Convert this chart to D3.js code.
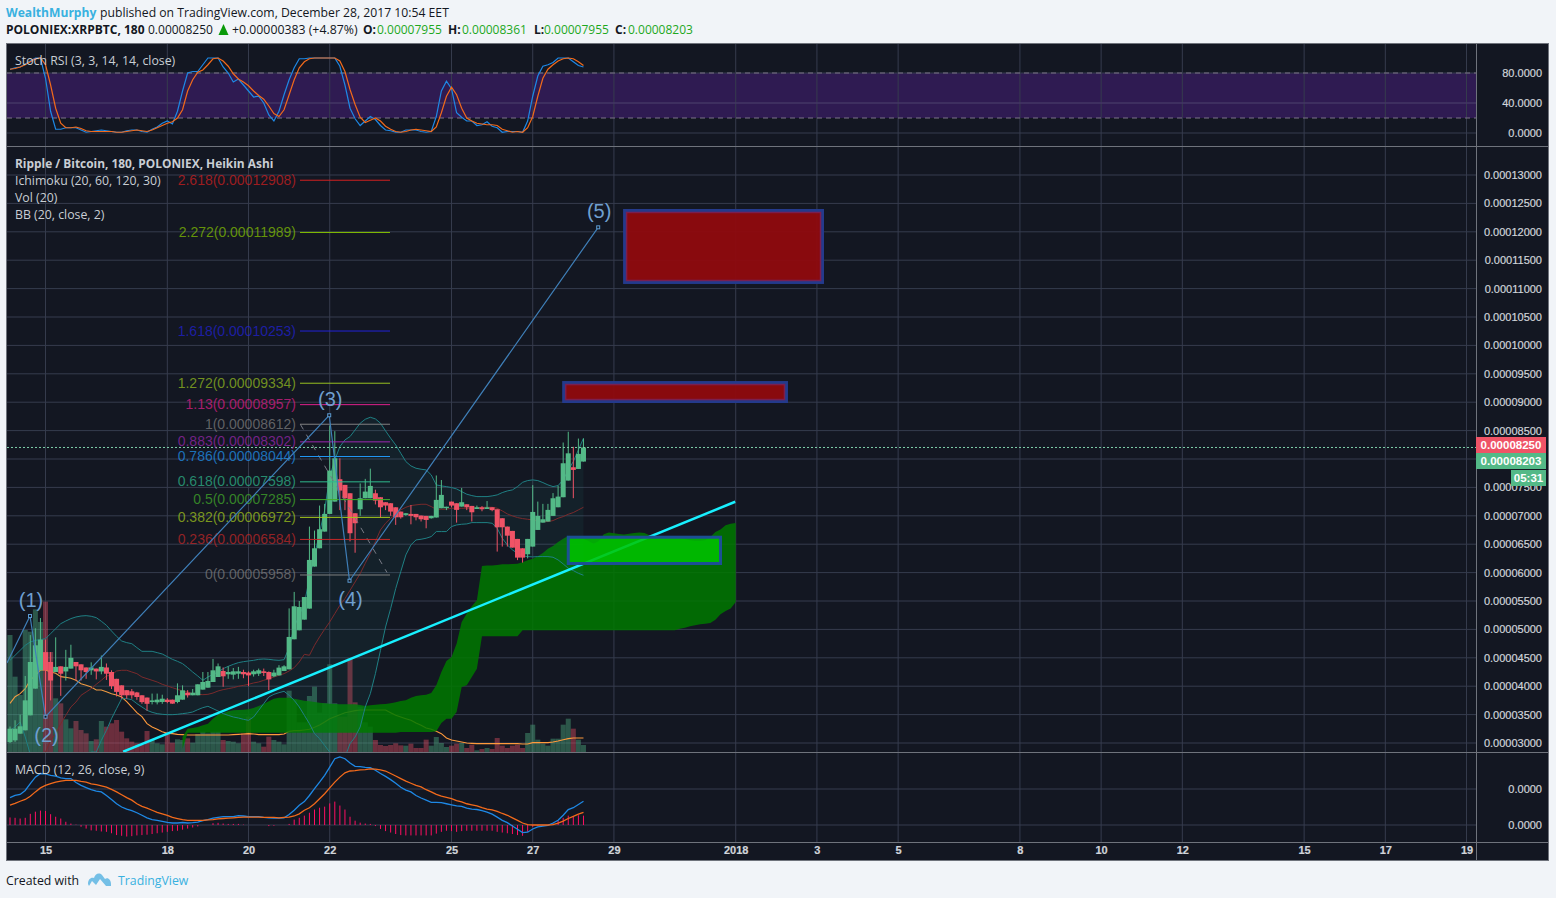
<!DOCTYPE html>
<html><head><meta charset="utf-8">
<script src="https://cdn.jsdelivr.net/npm/d3@7/dist/d3.min.js"></script>
<style>
html,body{margin:0;padding:0;background:#f1f4f8;overflow:hidden}
svg{display:block}
.ui{font-family:"Open Sans",sans-serif;font-size:12.3px}
.ui.b{font-size:11.9px}
.ax text{font-family:"Liberation Sans",Arial,sans-serif;font-size:11px;fill:#d0d4da;stroke:#d0d4da;stroke-width:.2px}
.ax path,.ax line{display:none}
</style></head><body>
<script>
// ---------- Data (prices in 1e-8 BTC) ----------
const haOpen=[3018,3047,3164,3223,3487,3957,4280,4600,4426,4250,4350,4260,4310,4426,4385,4330,4280,4310,4260,4330,4250,4130,4015,3930,3910,3890,3840,3800,3722,3716,3722,3763,3763,3722,3763,3886,3840,3840,3940,3974,4074,4162,4268,4210,4203,4220,4250,4240,4210,4220,4262,4250,4174,4190,4268,4297,4826,4984,5172,5366,6106,6428,6722,7033,7250,7644,7544,7397,7045,7115,7309,7309,7397,7327,7239,7221,7150,7074,7015,7033,7033,7004,6998,6957,6970,7133,7145,7250,7221,7162,7203,7174,7120,7150,7120,7150,7115,6957,6810,6734,6593,6428,6323,6458,6751,6880,6898,6998,7150,7327,7620,7855,7825,7955];
const haClose=[3252,3252,3294,3751,4426,4720,4820,4280,4100,4340,4220,4340,4500,4350,4280,4250,4330,4260,4340,4220,4000,3900,3840,3840,3840,3810,3720,3690,3750,3763,3780,3722,3693,3840,3927,3840,3886,4033,4074,4092,4280,4350,4174,4250,4262,4262,4210,4190,4262,4280,4233,4120,4240,4327,4350,4867,5407,5395,5570,6223,6428,6763,7033,7796,8013,7444,7309,6693,6869,7309,7426,7526,7268,7150,7180,7074,6974,6974,7045,6998,6974,6939,6927,6998,7280,7368,7160,7180,7104,7239,7150,7062,7150,7115,7150,7100,6798,6798,6650,6440,6264,6264,6593,7068,6998,6939,7104,7309,7338,7925,8100,7808,8090,8203];
const haHigh=[3290,3400,3500,4180,4900,5020,5200,4820,4600,4860,4350,4640,4730,4426,4385,4330,4420,4310,4540,4400,4280,4130,4015,3930,3950,3900,3840,3800,3870,3870,3850,3790,3763,4050,4015,3930,3950,4033,4250,4250,4480,4400,4330,4350,4320,4340,4290,4260,4290,4310,4310,4260,4290,4370,4370,5370,5660,5500,5570,6810,6740,7180,7210,8590,8490,8013,7544,7397,7045,7570,7650,7830,7460,7327,7239,7221,7150,7074,7050,7190,7033,7004,6998,7000,7710,7630,7160,7250,7221,7490,7203,7174,7180,7170,7260,7150,7115,6957,6810,6734,6593,6428,6593,7540,7250,7210,7210,7400,7530,8290,8480,8215,8360,8361];
const haLow=[3000,3020,3164,3223,3487,3957,4280,3420,3750,4250,3830,4100,4310,4100,4100,4130,4200,4120,4210,4110,3950,3820,3780,3780,3780,3760,3690,3570,3680,3680,3690,3700,3690,3700,3763,3800,3840,3840,3940,3974,4074,4162,3990,4130,4120,4130,4140,4000,4170,4180,4180,3930,4160,4190,4268,4297,4826,4984,5172,5366,6106,6428,6722,7033,7250,7100,7100,6550,6350,7000,7309,7309,7200,6970,7100,7000,6840,6950,7000,6850,6920,6900,6780,6950,6970,7133,7100,7150,6880,7162,7100,6900,7120,7080,7120,7080,6370,6458,6458,6440,6220,6176,6250,6458,6751,6880,6898,6998,7150,7327,7620,7310,7825,7955];
const volume=[351,226,171,366,361,428,390,451,300,161,146,98,71,93,66,56,33,38,93,76,86,96,61,41,31,26,21,63,36,26,23,58,28,38,36,41,28,54,61,56,61,61,36,33,31,26,56,106,31,26,16,46,36,31,23,184,156,89,89,168,196,118,146,263,146,106,106,281,149,136,89,76,36,21,18,21,26,20,19,25,12,12,37,19,45,27,15,19,25,27,12,22,5,9,12,9,42,19,12,19,22,12,57,82,37,25,19,40,40,82,100,70,37,21];
const volumeMA=[146,166,175,190,216,230,246,246,240,236,226,224,221,215,205,200,195,186,186,181,175,171,165,151,135,118,106,85,75,68,61,56,55,53,52,51,51,51,51,51,51,51,51,51,52,53,54,55,54,52,52,52,52,52,54,62,64,64,66,68,74,81,90,100,106,112,118,121,124,126,126,126,126,126,126,118,110,105,100,95,87,80,72,68,62,55,42,36,33,30,27,26,25,25,25,25,25,25,25,25,25,24,24,28,28,28,28,30,33,37,40,42,42,42];
const bbUpper=[4456,4544,4632,4720,4779,4808,4820,4837,4925,5013,5101,5148,5190,5219,5236,5242,5231,5207,5143,5072,4972,4878,4796,4767,4749,4679,4614,4614,4614,4591,4567,4520,4473,4438,4397,4327,4250,4180,4104,4162,4209,4250,4309,4350,4385,4415,4432,4444,4456,4473,4479,4473,4462,4456,4467,4679,5043,5248,5454,5900,6300,6700,7100,7690,7984,8219,8336,8395,8512,8630,8700,8735,8706,8630,8495,8366,8248,8101,7955,7878,7837,7820,7808,7720,7544,7526,7514,7497,7473,7426,7380,7356,7338,7338,7338,7350,7368,7409,7438,7456,7514,7590,7620,7632,7620,7585,7544,7514,7532,7632,7808,7955,8160,8366];
const bbBasis=[2100,2200,2300,2400,2500,2650,2800,2841,3047,3164,3340,3487,3634,3722,3840,3898,3957,4033,4104,4180,4192,4268,4280,4280,4250,4221,4162,4133,4104,4074,4033,4004,3974,3945,3916,3898,3869,3857,3851,3857,3880,3916,3939,3957,3974,3998,4015,4033,4057,4074,4104,4133,4162,4192,4221,4268,4327,4426,4561,4544,4720,4867,5002,5131,5278,5424,5542,5688,5835,5982,6164,6340,6546,6751,6869,6957,7015,7104,7150,7180,7192,7203,7203,7162,7115,7115,7115,7133,7133,7133,7133,7133,7140,7150,7150,7150,7133,7086,7033,6998,6969,6951,6939,6927,6910,6898,6898,6916,6957,6986,7027,7057,7104,7150];
const bbLower=[3223,3282,3370,3106,2800,2600,2400,2300,2200,2100,2000,2000,2100,2200,2400,2600,2841,2841,3047,3223,3428,3605,3780,3780,3763,3693,3634,3575,3540,3517,3505,3499,3499,3505,3517,3528,3546,3587,3622,3646,3605,3563,3517,3487,3458,3440,3417,3399,3458,3575,3693,3810,3857,3886,3910,3839,3751,3634,3487,3340,3164,3076,2957,2841,2700,2700,2750,2988,3106,3282,3634,3869,4221,4632,5043,5366,5718,6018,6311,6487,6575,6587,6605,6634,6722,6722,6722,6810,6839,6851,6857,6880,6880,6880,6880,6868,6780,6605,6487,6400,6340,6294,6282,6276,6282,6282,6282,6270,6223,6153,6076,6035,5988,5953];
const cloudStart=34;
const cloudTop=[3106,3252,3264,3282,3311,3340,3428,3499,3528,3558,3575,3581,3587,3593,3616,3651,3693,3734,3781,3798,3798,3798,3781,3763,3745,3734,3722,3710,3698,3693,3687,3681,3681,3681,3681,3669,3652,3663,3675,3681,3687,3698,3716,3740,3751,3798,3828,3840,3851,3880,4015,4250,4444,4514,4749,5131,5278,5407,5512,6117,6123,6123,6135,6146,6146,6152,6158,6182,6217,6246,6287,6346,6422,6469,6540,6598,6645,6645,6645,6598,6557,6510,6557,6675,6704,6692,6680,6669,6686,6698,6704,6698,6657,6628,6622,6622,6628,6628,6616,6592,6569,6557,6557,6569,6628,6716,6757,6833,6862,6874];
const cloudBottom=[2900,3182,3182,3182,3182,3182,3182,3182,3182,3182,3182,3182,3182,3182,3182,3182,3182,3182,3182,3182,3182,3182,3182,3182,3182,3182,3182,3182,3182,3182,3182,3182,3182,3182,3182,3182,3182,3182,3182,3182,3182,3182,3182,3194,3194,3194,3194,3194,3194,3194,3205,3352,3429,3429,3546,3986,4015,4162,4309,4878,4878,4878,4878,4878,4878,4878,4878,4984,4984,4984,4984,4984,4984,4984,4984,4984,4984,4984,4984,4984,4984,4984,4984,4984,4984,4984,4984,4984,4984,4984,4984,4984,4984,4984,4984,4984,4984,4984,5013,5031,5054,5072,5090,5101,5113,5172,5266,5325,5366,5483];
const stochK=[85,87,88,92,96,100,100,73,29,5,5,7,7,7,4,1,2,3,4,3,2,1,1,3,4,4,2,1,5,8,13,16,12,29,56,80,82,82,91,100,100,100,88,80,68,72,64,56,48,49,40,24,16,29,51,71,87,99,99,100,100,100,100,100,100,89,64,33,19,10,16,22,18,10,4,3,1,1,4,4,4,2,1,2,22,56,69,59,27,21,16,16,10,11,15,9,7,1,2,2,2,1,16,49,76,89,91,94,100,100,100,95,90,88];
const stochD=[85,86,88,91,95,99,100,91,64,33,13,7,7,8,6,3,2,2,2,2,2,1,1,2,3,4,3,2,4,7,10,13,15,20,31,56,71,81,84,91,99,100,96,89,79,72,68,63,56,50,45,36,26,22,31,51,71,87,95,99,100,100,100,100,100,96,82,58,38,21,14,17,20,16,9,5,2,1,2,4,5,4,3,2,8,27,49,61,51,33,20,16,13,12,11,11,10,5,3,1,2,1,7,22,49,73,85,91,96,99,100,99,95,90];
const macdLine=[7.6,8.2,8.5,9.6,11.5,13.3,14.3,14.2,13.8,13.6,13.1,12.9,12.9,11.8,11,10.4,9.8,9.4,9.2,8.2,7.1,5.9,5,4.4,4,3.4,2.7,2,1.5,1.3,1,.7,.55,.55,.7,.55,.65,.8,1.2,1.5,1.9,2.1,2.3,2.3,2.3,2.6,2.5,2.3,2.3,2.3,2.1,2,1.9,1.9,2,2.9,4.1,5.5,6.5,8.2,10.1,11.9,13.8,16.1,18.4,18.9,18.4,17.2,16.3,16.2,16,15.9,15.2,14.3,13.5,12.6,11.6,10.5,9.7,9.2,8.2,7.5,6.9,6.3,6.3,6.2,5.9,5.6,5.3,5.2,4.7,4.4,4.3,4,3.6,3,2.2,1.3,.65,-.3,-1.2,-2.1,-2,-1.1,-.55,-.3,-.1,.55,1.3,2.7,4.3,4.8,5.7,6.6];
const macdSignal=[5.5,6,6.6,7.1,8,9.2,10.3,11,11.5,11.9,12.2,12.4,12.4,12.4,12.1,11.9,11.4,11.2,10.9,10.5,9.9,9.2,8.4,7.6,6.9,5.9,5.2,4.7,4.1,3.5,3.1,2.7,2.1,1.8,1.5,1.3,1.3,1.3,1.3,1.4,1.5,1.7,1.8,1.9,2,2.1,2.2,2.2,2.2,2.2,2.1,2.1,2.1,2,2.1,2.2,2.5,3.1,4.1,4.8,5.9,7.3,8.7,10.3,11.9,13.3,14.5,15,15.1,15.3,15.4,15.6,15.5,15.3,15,14.3,13.6,12.9,12.2,11.6,11,10.6,9.8,9.2,8.5,8,7.7,7.3,6.8,6.4,5.9,5.6,5.3,4.8,4.4,4.2,3.8,3.2,2.7,2,1.3,.55,.1,0,0,0,0,.1,.55,1.1,1.8,2.4,3,3.5];
const macdHist=[2.1,2,1.8,2,3.1,3.7,4,3.9,3,2.3,1.8,.9,.4,.1,-.5,-1,-1.5,-1.6,-1.8,-1.9,-2.3,-2.8,-3,-3.2,-3.1,-2.9,-2.8,-2.7,-2.5,-2.3,-2.1,-1.9,-1.7,-1.6,-1.3,-1,-.7,-.4,0,0,.5,.6,.4,.3,.3,.3,.1,0,0,0,0,-.3,-.2,0,0,.3,1.5,2,2.6,3.4,4.3,4.8,5.1,6,6.5,5.4,4.3,2.3,1.2,.65,.4,.3,-.3,-1.1,-1.7,-2.1,-2.5,-2.8,-2.9,-2.9,-2.9,-2.9,-2.9,-2.9,-2.4,-1.9,-1.6,-1.7,-1.9,-1.7,-1.6,-1.6,-1.6,-1.6,-1.6,-1.6,-1.9,-2.1,-2.3,-2.5,-2.8,-3,-1.9,-.5,-.2,-.1,0,.4,1.2,2,2.6,2.4,2.7,2.6];
const dayTickBars=[7,31,47,63,87,103,119,143,159,175,199,215,231,255,271,287];
const dayTickLabels=["15","18","20","22","25","27","29","2018","3","5","8","10","12","15","17","19"];
const priceTicks=d3.range(3000,13001,500);
const hiddenPriceLabel=8000;   // covered by the price flags in the reference
const stochTicks=[0,40,80];
const macdTicks=[0,10];
const fibLevels=["2.618","2.272","1.618","1.272","1.13","1","0.883","0.786","0.618","0.5","0.382","0.236","0"];
const fibPrices=[12908,11989,10253,9334,8957,8612,8302,8044,7598,7285,6972,6584,5958];
const fibLine=["#d32020","#86c400","#2222d8","#98c020","#e0208c","#808080","#9c27b0","#2196f3","#2fb98c","#43b02a","#a4c81c","#c62828","#808080"];
const waveBars=[-0.6,3.94,7,62.9,66.9,115.9];
const wavePrices=[4408,5236,3463,8770,5857,12079];
const waveLabels=["","(1)","(2)","(3)","(4)","(5)"];
const trendBars=[22.3,142.9];
const trendPrices=[2846,7247];
const fibTrendBars=[57.2,74.3];
const fibTrendPrices=[8612,6000];
const redBoxes=[[121.1,160.1,12375,11108],[109.1,153,9346,9012]];
const greenBox=[110,140,6623,6160];
const lastPrice=8250,lastClose=8203;

// ---------- Layout ----------
const W=1556,H=898,L=7,R=1476,FR=1549;
const x=d3.scaleLinear().domain([0,287]).range([10,10+287*5.075]);
const y=d3.scaleLinear().domain([3000,13000]).range([743,175]);
const yV=d3.scaleLinear().domain([0,600]).range([752,552]);
const yS=d3.scaleLinear().domain([0,100]).range([133,58]);
const yM=d3.scaleLinear().domain([0,10]).range([825,789]);
const bars=d3.range(haOpen.length);
const GREEN="#53b987",RED="#ef5366",GRID="#363c4e",EDGE="#6f737c",LBL="#c9ced4";

const svg=d3.select("body").append("svg").attr("width",W).attr("height",H);
const defs=svg.append("defs");
[["cS",44,146],["cP",147,752],["cM",753,842]].forEach(([id,a,b])=>defs.append("clipPath").attr("id",id)
  .append("rect").attr("x",L).attr("y",a).attr("width",R-L).attr("height",b-a));
svg.append("rect").attr("x",6).attr("y",43).attr("width",FR-6).attr("height",818).attr("fill","#131722");

// Stoch band sits below the grid
svg.append("rect").attr("x",L).attr("width",R-L).attr("y",yS(80)).attr("height",yS(20)-yS(80)).attr("fill","#2f1b52");

// grid
const g=svg.append("g");
const vLine=(a,b)=>g.append("g").selectAll("line").data(dayTickBars).join("line")
  .attr("x1",d=>x(d)).attr("x2",d=>x(d)).attr("y1",a).attr("y2",b).attr("stroke",GRID);
vLine(44,146);vLine(147,752);vLine(753,842);
const hLine=(vals,sc)=>g.append("g").selectAll("line").data(vals).join("line")
  .attr("x1",L).attr("x2",R).attr("y1",d=>sc(d)).attr("y2",d=>sc(d)).attr("stroke",GRID);
hLine(stochTicks,yS);hLine(priceTicks,y);hLine(macdTicks,yM);

// Stoch pane
const sP=svg.append("g").attr("clip-path","url(#cS)");
sP.append("line").attr("x1",L).attr("x2",R).attr("y1",yS(40)).attr("y2",yS(40)).attr("stroke","#4a3570");
[80,20].forEach(v=>sP.append("line").attr("x1",L).attr("x2",R).attr("y1",yS(v)).attr("y2",yS(v)).attr("stroke","#7c7488").attr("stroke-dasharray","5 4"));
const ln=(sc)=>d3.line().x((d,i)=>x(i)).y(d=>sc(d));
sP.append("path").attr("d",ln(yS)(stochK)).attr("fill","none").attr("stroke","#1e88e5").attr("stroke-width",1.2);
sP.append("path").attr("d",ln(yS)(stochD)).attr("fill","none").attr("stroke","#f26a1b").attr("stroke-width",1.2);

// Main pane
const mP=svg.append("g").attr("clip-path","url(#cP)");
mP.append("g").selectAll("rect").data(bars).join("rect")
  .attr("x",i=>x(i)-2.5).attr("width",5).attr("y",i=>yV(volume[i])).attr("height",i=>yV(0)-yV(volume[i]))
  .attr("fill",i=>haClose[i]<haOpen[i]?RED:GREEN).attr("opacity",.4);
mP.append("path").attr("d",ln(yV)(volumeMA)).attr("fill","none").attr("stroke","#ff9a3c").attr("stroke-width",1.1);
const cloud=d3.area().x((d,i)=>x(i+cloudStart)).y0((d,i)=>y(cloudBottom[i])).y1(d=>y(d));
mP.append("path").attr("d",cloud(cloudTop)).attr("fill","#007800").attr("opacity",.86);
const bbArea=d3.area().x((d,i)=>x(i)).y0((d,i)=>y(bbLower[i])).y1(d=>y(d));
mP.append("path").attr("d",bbArea(bbUpper)).attr("fill","#26a69a").attr("opacity",.07);
mP.append("path").attr("d",ln(y)(bbBasis)).attr("fill","none").attr("stroke","#7a2a2c");
mP.append("path").attr("d",ln(y)(bbUpper)).attr("fill","none").attr("stroke","#1f8084");
mP.append("path").attr("d",ln(y)(bbLower)).attr("fill","none").attr("stroke","#1f8084");
const col=i=>haClose[i]<haOpen[i]?RED:GREEN;
mP.append("g").selectAll("line").data(bars).join("line")
  .attr("x1",i=>x(i)).attr("x2",i=>x(i)).attr("y1",i=>y(haHigh[i])).attr("y2",i=>y(haLow[i])).attr("stroke",col);
mP.append("g").selectAll("rect").data(bars).join("rect")
  .attr("x",i=>x(i)-2.5).attr("width",5)
  .attr("y",i=>y(Math.max(haOpen[i],haClose[i])))
  .attr("height",i=>Math.max(1.5,Math.abs(y(haOpen[i])-y(haClose[i])))).attr("fill",col);

// price line
mP.append("line").attr("x1",L).attr("x2",R).attr("y1",y(lastClose)).attr("y2",y(lastClose))
  .attr("stroke","#7fd0aa").attr("stroke-dasharray","2 2");

// trend line
mP.append("line").attr("x1",x(trendBars[0])).attr("x2",x(trendBars[1])).attr("y1",y(trendPrices[0])).attr("y2",y(trendPrices[1]))
  .attr("stroke","#18f0ff").attr("stroke-width",2.5);

// boxes
const box=(b,fill,op,stroke)=>{
  mP.append("rect").attr("x",x(b[0])).attr("width",x(b[1])-x(b[0])).attr("y",y(b[2])).attr("height",y(b[3])-y(b[2]))
    .attr("fill",fill).attr("fill-opacity",op).attr("stroke",stroke).attr("stroke-width",3);
};
redBoxes.forEach(b=>box(b,"#8f0a0e",.95,"#243a8c"));
box(greenBox,"#00c400",.85,"#1c4f94");
redBoxes.forEach(b=>mP.append("rect").attr("x",x(b[0])+2).attr("width",x(b[1])-x(b[0])-4).attr("y",y(b[2])+2).attr("height",y(b[3])-y(b[2])-4)
  .attr("fill","none").attr("stroke","#7a1f50").attr("stroke-width",1.5));

// fib
const fibX1=300,fibX2=390;
mP.append("line").attr("x1",x(fibTrendBars[0])).attr("x2",x(fibTrendBars[1])).attr("y1",y(fibTrendPrices[0])).attr("y2",y(fibTrendPrices[1]))
  .attr("stroke","#787b86").attr("stroke-dasharray","6 6");
const fibG=mP.append("g").selectAll("g").data(fibLevels).join("g");
fibG.append("line").attr("x1",fibX1).attr("x2",fibX2).attr("y1",(d,i)=>y(fibPrices[i])).attr("y2",(d,i)=>y(fibPrices[i])).attr("stroke",(d,i)=>fibLine[i]);
fibG.append("text").attr("x",296).attr("y",(d,i)=>y(fibPrices[i])+4.5).attr("text-anchor","end")
  .attr("font-family","Liberation Sans,Arial,sans-serif").attr("font-size",14)
  .attr("fill",(d,i)=>fibLine[i]).attr("fill-opacity",.72)
  .text((d,i)=>d+"("+(fibPrices[i]*1e-8).toFixed(8)+")");

// wave
const wx=d3.line().x(d=>x(d[0])).y(d=>y(d[1]));
const wavePts=waveBars.map((b,i)=>[b,wavePrices[i]]);
mP.append("path").attr("d",wx(wavePts)).attr("fill","none").attr("stroke","#3f7fb8").attr("stroke-width",1.2);
mP.append("g").selectAll("rect").data(wavePts.slice(1)).join("rect")
  .attr("x",d=>x(d[0])-1.5).attr("y",d=>y(d[1])-1.5).attr("width",3).attr("height",3)
  .attr("fill","#131722").attr("stroke","#5c9bd1");
const waveDy=[0,-16,18,-16,18,-16];
mP.append("g").selectAll("text").data(waveLabels).join("text")
  .attr("x",(d,i)=>x(waveBars[i])+1).attr("y",(d,i)=>y(wavePrices[i])+waveDy[i]+7).attr("text-anchor","middle")
  .attr("font-family","Liberation Sans,Arial,sans-serif").attr("font-size",20).attr("fill","#6f9fcf").text(d=>d);

// MACD pane
const dP=svg.append("g").attr("clip-path","url(#cM)");
dP.append("g").selectAll("line").data(bars).join("line")
  .attr("x1",i=>x(i)).attr("x2",i=>x(i)).attr("y1",yM(0)).attr("y2",i=>yM(macdHist[i])).attr("stroke","#ff0f62");
dP.append("path").attr("d",ln(yM)(macdLine)).attr("fill","none").attr("stroke","#1e88e5").attr("stroke-width",1.3);
dP.append("path").attr("d",ln(yM)(macdSignal)).attr("fill","none").attr("stroke","#f26a1b").attr("stroke-width",1.3);

// frame/separators
const seg=(x1,y1,x2,y2,c,w=1)=>svg.append("line").attr("x1",x1).attr("y1",y1).attr("x2",x2).attr("y2",y2).attr("stroke",c).attr("stroke-width",w);
svg.append("rect").attr("x",6.5).attr("y",43.5).attr("width",FR-7).attr("height",817).attr("fill","none").attr("stroke",EDGE);
seg(7,146.5,FR,146.5,EDGE);seg(7,752.5,FR,752.5,EDGE);seg(7,842.5,FR,842.5,EDGE);seg(R+.5,44,R+.5,861,EDGE);

// axes (labels right-aligned at the same edge)
const axR=(sc,vals,fmt)=>{
  const a=svg.append("g").attr("class","ax").attr("transform",`translate(${R},0)`)
    .call(d3.axisRight(sc).tickValues(vals).tickFormat(fmt).tickSize(0).tickPadding(66));
  a.selectAll("text").attr("text-anchor","end");
};
axR(y,priceTicks.filter(d=>d!==hiddenPriceLabel),d=>(d*1e-8).toFixed(8));
axR(yS,stochTicks,d=>d.toFixed(4));
axR(yM,macdTicks,d=>(d*1e-8).toFixed(4));
const axB=svg.append("g").attr("class","ax").attr("transform","translate(0,846)")
  .call(d3.axisBottom(x).tickValues(dayTickBars).tickFormat((d,i)=>dayTickLabels[i]).tickSize(0).tickPadding(0));
axB.selectAll("text").attr("font-weight","bold");

// price flags
const flag=(y0,h,c,t,x0=R,w=70)=>{
  svg.append("rect").attr("x",x0).attr("y",y0).attr("width",w).attr("height",h).attr("fill",c);
  svg.append("text").attr("x",x0+w/2).attr("y",y0+h/2+4).attr("text-anchor","middle").attr("fill","#fff")
   .attr("font-family","Liberation Sans,Arial,sans-serif").attr("font-size",11.5).attr("font-weight","bold").text(t);
};
flag(437,16,RED,(lastPrice*1e-8).toFixed(8));
flag(453,16,GREEN,(lastClose*1e-8).toFixed(8));
flag(470,16,GREEN,"05:31",1511,35);

// pane legends
const leg=(t,px,py,b)=>svg.append("text").attr("class",b?"ui b":"ui").attr("x",px).attr("y",py).attr("fill",LBL).attr("font-weight",b?700:400).text(t);
leg("Stoch RSI (3, 3, 14, 14, close)",15,65);
leg("Ripple / Bitcoin, 180, POLONIEX, Heikin Ashi",15,168,true);
leg("Ichimoku (20, 60, 120, 30)",15,185);
leg("Vol (20)",15,202);
leg("BB (20, close, 2)",15,219);
leg("MACD (12, 26, close, 9)",15,774);

// header
const hdr=(t,px,py,c,b)=>svg.append("text").attr("class","ui").attr("x",px).attr("y",py).attr("fill",c).attr("font-weight",b?700:400).text(t);
hdr("WealthMurphy",6,16.5,"#39b1e0",true).style("font-size","12.1px");
hdr("published on TradingView.com, December 28, 2017 10:54 EET",100,16.5,"#131722").style("font-size","12.2px");
hdr("POLONIEX:XRPBTC, 180",6,34,"#131722",true).style("font-size","12px");
hdr("0.00008250",148,34,"#131722").style("font-size","12px");
svg.append("path").attr("d","M218.5 35 L223.5 24 L228.5 35 Z").attr("fill","#0a9a0a");
hdr("+0.00000383 (+4.87%)",232,34,"#131722");
[["O:","0.00007955",363,377],["H:","0.00008361",448,462],["L:","0.00007955",534,544],["C:","0.00008203",615,628]].forEach(r=>{
  hdr(r[0],r[2],34,"#131722",true).style("font-size","12px");hdr(r[1],r[3],34,"#1ea81e").style("font-size","12px");
});

// footer
hdr("Created with",6,885,"#131722");
svg.append("path").attr("d","M88 884 C88 879 91 877 94 878 C95 874 99 872 102 875 L105 879 C108 877 111 880 111 884 L111 886 L106 886 L100 879 L96 885 L92 881 L89 886 Z").attr("fill","#74bfe6");
hdr("TradingView",118,885,"#39b1e0");
</script>
</body></html>
